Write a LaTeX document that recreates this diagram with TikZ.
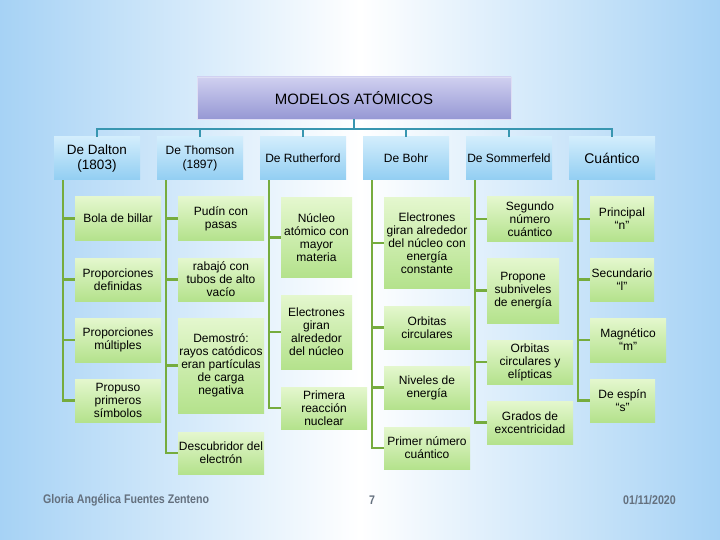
\documentclass[tikz,border=0pt]{standalone}
\usepackage{fontspec}
\setmainfont{Liberation Sans}
\newfontfamily\footfont[FakeStretch=0.85]{Liberation Sans}
\usetikzlibrary{positioning}

\definecolor{bgblue}{RGB}{166,210,245}
\definecolor{titletop}{RGB}{208,208,240}
\definecolor{titlebot}{RGB}{150,152,212}
\definecolor{hdrtop}{RGB}{210,237,252}
\definecolor{hdrbot}{RGB}{146,206,242}
\definecolor{leaftop}{RGB}{228,247,206}
\definecolor{leafbot}{RGB}{180,226,140}
\definecolor{busline}{RGB}{56,150,176}
\definecolor{stemline}{RGB}{118,172,62}
\definecolor{inkgrey}{RGB}{100,112,126}

\tikzset{
  topbox/.style={minimum width=314pt, minimum height=42pt, top color=titletop,
    bottom color=titlebot, draw=titletop!70!white, inner sep=0pt,
    font=\fontsize{15}{16}\selectfont},
  hdr/.style={minimum width=86pt, minimum height=43pt, top color=hdrtop,
    bottom color=hdrbot, align=center, inner sep=0pt},
  leaf/.style={minimum width=86pt, minimum height=43pt, top color=leaftop,
    bottom color=leafbot, align=center, inner sep=0pt,
    font=\fontsize{12}{13}\selectfont},
  bus/.style={busline, line width=2pt},
  stem/.style={stemline, line width=2.4pt},
  foot/.style={inkgrey, inner sep=0pt, font=\footfont\bfseries\fontsize{12.5}{13}\selectfont}
}

\begin{document}
\begin{tikzpicture}[x=1pt, y=-1pt]
  % background
  \shade[left color=bgblue, right color=bgblue, middle color=white]
    (0,0) rectangle (720,540);
  \useasboundingbox (0,0) rectangle (720,540);

  % title
  \node[topbox] (title) at (354,98) {MODELOS ATÓMICOS};

  % headers
  \foreach \n/\x/\f/\t in {dal/97/13.5/{De Dalton\\(1803)}, tho/200/12/{De Thomson\\(1897)},
      rut/303/12/{De Rutherford}, boh/406/12/{De Bohr},
      som/509/12/{De Sommerfeld}, cua/612/14/{Cuántico}} {
    \node[hdr, font=\fontsize{\f}{14.5}\selectfont] (\n) at (\x,158.5) {\t};
  }

  % Dalton
  \node[leaf] (d1) at (118,218.5) {Bola de billar};
  \node[leaf] (d2) at (118,279.5) {Proporciones\\definidas};
  \node[leaf, minimum height=44pt] (d3) at (118,340) {Proporciones\\múltiples};
  \node[leaf] (d4) at (118,400.5) {Propuso\\primeros\\símbolos};

  % Thomson
  \node[leaf] (t1) at (221,218.5) {Pudín con\\pasas};
  \node[leaf] (t2) at (221,279.5) {rabajó con\\tubos de alto\\vacío};
  \node[leaf, minimum height=95pt] (t3) at (221,365.5)
    {Demostró:\\rayos catódicos\\eran partículas\\de carga\\negativa};
  \node[leaf, minimum height=42pt] (t4) at (221,453) {Descubridor del\\electrón};

  % Rutherford
  \node[leaf, minimum width=71pt, minimum height=79pt] (r1) at (316.5,237.5)
    {Núcleo\\atómico con\\mayor\\materia};
  \node[leaf, minimum width=71pt, minimum height=74pt] (r2) at (316.5,332)
    {Electrones\\giran\\alrededor\\del núcleo};
  \node[leaf, minimum height=42pt] (r3) at (324,408) {Primera\\reacción\\nuclear};

  % Bohr
  \node[leaf, minimum height=90pt] (b1) at (427,243)
    {Electrones\\giran alrededor\\del núcleo con\\energía\\constante};
  \node[leaf] (b2) at (427,327.5) {Orbitas\\circulares};
  \node[leaf] (b3) at (427,387.5) {Niveles de\\energía};
  \node[leaf, minimum height=42pt] (b4) at (427,448) {Primer número\\cuántico};

  % Sommerfeld
  \node[leaf, minimum height=44pt] (s1) at (530,219) {Segundo\\número\\cuántico};
  \node[leaf, minimum width=72pt, minimum height=65pt] (s2) at (523,290.5)
    {Propone\\subniveles\\de energía};
  \node[leaf, minimum height=44pt] (s3) at (530,362) {Orbitas\\circulares y\\elípticas};
  \node[leaf] (s4) at (530,422.5) {Grados de\\excentricidad};

  % Cuantico
  \node[leaf, minimum width=64pt, minimum height=44pt] (q1) at (622,219) {Principal\\“n”};
  \node[leaf, minimum width=64pt] (q2) at (622,279.5) {Secundario\\“l”};
  \node[leaf, minimum width=76pt, minimum height=44pt] (q3) at (628,340) {Magnético\\“m”};
  \node[leaf, minimum width=65pt] (q4) at (622.5,400.5) {De espín\\“s”};

  % connectors
  \foreach \h in {dal,tho,rut,boh,som,cua} {
    \draw[bus] (title.south) -- ++(0,10) -| (\h.north);
  }
  \foreach \h/\kids in {dal/{d1,d2,d3,d4}, tho/{t1,t2,t3,t4}, rut/{r1,r2,r3},
      boh/{b1,b2,b3,b4}, som/{s1,s2,s3,s4}, cua/{q1,q2,q3,q4}} {
    \foreach \k in \kids {
      \draw[stem] ([xshift=9pt]\h.south west) |- (\k.west);
    }
  }

  % footer
  \node[foot, anchor=west] (author) at (43,500) {Gloria Angélica Fuentes Zenteno};
  \node[foot] (page) at (372,500) {7};
  \node[foot, anchor=east] (date) at (676,500) {01/11/2020};
\end{tikzpicture}
\end{document}
